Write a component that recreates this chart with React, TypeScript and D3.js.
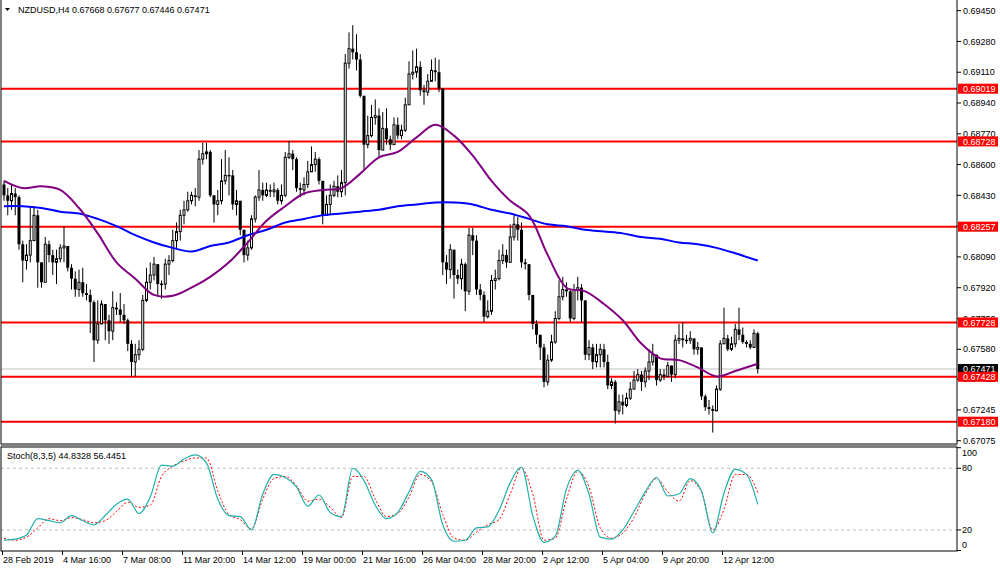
import React from 'react';
import * as d3 from 'd3';

const titleText = 'NZDUSD,H4  0.67668 0.67677 0.67446 0.67471';
const stochTitle = 'Stoch(8,3,5) 44.8328 56.4451';
const firstOpen = 0.6849;

const closes = [
  0.6843, 0.6840, 0.6844, 0.6842, 0.6816, 0.6807, 0.6810, 0.6818, 0.6832, 0.6806,
  0.6795, 0.6816, 0.6810, 0.6806, 0.6808, 0.6814, 0.6815, 0.6803, 0.6797, 0.6791,
  0.6795, 0.6789, 0.6788, 0.6784, 0.6763, 0.6772, 0.6783, 0.6774, 0.6768, 0.6781,
  0.6780, 0.6777, 0.6774, 0.6761, 0.6751, 0.6755, 0.6758, 0.6785, 0.6795, 0.6799,
  0.6805, 0.6794, 0.6794, 0.6805, 0.6807, 0.6818, 0.6823, 0.6832, 0.6835, 0.6840,
  0.6843, 0.6842, 0.6863, 0.6866, 0.6867, 0.6843, 0.6838, 0.6840, 0.6851, 0.6854,
  0.6854, 0.6838, 0.6840, 0.6824, 0.6810, 0.6814, 0.6830, 0.6842, 0.6846, 0.6843,
  0.6846, 0.6845, 0.6846, 0.6840, 0.6843, 0.6864, 0.6866, 0.6863, 0.6847, 0.6846,
  0.6849, 0.6856, 0.6860, 0.6863, 0.6851, 0.6832, 0.6838, 0.6843, 0.6848, 0.6845,
  0.6850, 0.6916, 0.6924, 0.6922, 0.6918, 0.6898, 0.6871, 0.6876, 0.6886, 0.6887,
  0.6868, 0.6880, 0.6874, 0.6871, 0.6882, 0.6876, 0.6879, 0.6893, 0.6910, 0.6911,
  0.6914, 0.6901, 0.6900, 0.6906, 0.6912, 0.6911, 0.6902, 0.6806, 0.6802, 0.6813,
  0.6799, 0.6797, 0.6805, 0.6790, 0.6821, 0.6818, 0.6791, 0.6788, 0.6776, 0.6779,
  0.6796, 0.6797, 0.6807, 0.6810, 0.6806, 0.6820, 0.6827, 0.6824, 0.6806, 0.6805,
  0.6788, 0.6772, 0.6766, 0.6759, 0.6740, 0.6752, 0.6762, 0.6775, 0.6787, 0.6791,
  0.6790, 0.6775, 0.6791, 0.6792, 0.6785, 0.6755, 0.6759, 0.6751, 0.6755, 0.6758,
  0.6751, 0.6738, 0.6740, 0.6724, 0.6729, 0.6727, 0.6731, 0.6736, 0.6741, 0.6744,
  0.6740, 0.6746, 0.6751, 0.6755, 0.6741, 0.6744, 0.6743, 0.6749, 0.6744, 0.6763,
  0.6764, 0.6763, 0.6763, 0.6764, 0.6758, 0.6759, 0.6732, 0.6726, 0.6725, 0.6724,
  0.6736, 0.6761, 0.6764, 0.6758, 0.6761, 0.6769, 0.6766, 0.6762, 0.6761, 0.6759,
  0.67668, 0.67471,
];

const highs = [
  0.6851, 0.6847, 0.6849, 0.6847, 0.6843, 0.6818, 0.6816, 0.6837, 0.6837, 0.6835,
  0.6806, 0.6820, 0.6818, 0.6813, 0.6813, 0.6816, 0.6826, 0.6813, 0.6805, 0.6801,
  0.6802, 0.6803, 0.6794, 0.6791, 0.6785, 0.6785, 0.6785, 0.6783, 0.6777, 0.6790,
  0.6784, 0.6789, 0.6783, 0.6775, 0.6763, 0.6761, 0.6763, 0.6788, 0.6803, 0.6806,
  0.6809, 0.6805, 0.6796, 0.6808, 0.6810, 0.6824, 0.6828, 0.6835, 0.6840, 0.6845,
  0.6845, 0.6847, 0.6868, 0.6872, 0.6872, 0.6868, 0.6843, 0.6846, 0.6863, 0.6868,
  0.6864, 0.6857, 0.6846, 0.6840, 0.6824, 0.6818, 0.6832, 0.6843, 0.6857, 0.6850,
  0.6850, 0.6849, 0.6850, 0.6847, 0.6849, 0.6867, 0.6873, 0.6868, 0.6864, 0.6850,
  0.6853, 0.6862, 0.6870, 0.6867, 0.6864, 0.6851, 0.6843, 0.6849, 0.6851, 0.6854,
  0.6857, 0.6921, 0.6933, 0.6937, 0.6932, 0.6921, 0.6898, 0.6887, 0.6893, 0.6896,
  0.6891, 0.6889, 0.6891, 0.6876, 0.6886, 0.6886, 0.6882, 0.6897, 0.6917, 0.6923,
  0.6924, 0.6917, 0.6904, 0.6910, 0.6918, 0.6919, 0.6918, 0.6902, 0.6810, 0.6816,
  0.6813, 0.6802, 0.6808, 0.6806, 0.6825, 0.6825, 0.6821, 0.6794, 0.6790, 0.6785,
  0.6799, 0.6802, 0.6813, 0.6816, 0.6813, 0.6827, 0.6832, 0.6831, 0.6828, 0.6808,
  0.6805, 0.6788, 0.6774, 0.6766, 0.6761, 0.6755, 0.6766, 0.6779, 0.6796, 0.6798,
  0.6795, 0.6791, 0.6794, 0.6798, 0.6794, 0.6785, 0.6763, 0.6761, 0.6761, 0.6761,
  0.6761, 0.6755, 0.6742, 0.6741, 0.6733, 0.6733, 0.6734, 0.6740, 0.6746, 0.6747,
  0.6746, 0.6748, 0.6758, 0.6761, 0.6755, 0.6747, 0.6747, 0.6751, 0.6749, 0.6766,
  0.6772, 0.6773, 0.6766, 0.6768, 0.6764, 0.6762, 0.6759, 0.6733, 0.6730, 0.6727,
  0.6738, 0.6763, 0.6781, 0.6766, 0.6765, 0.6772, 0.6781, 0.6770, 0.6763, 0.6763,
  0.6769, 0.67677,
];

const lows = [
  0.6840, 0.6832, 0.6835, 0.6832, 0.6813, 0.6795, 0.6802, 0.6806, 0.6818, 0.6792,
  0.6792, 0.6795, 0.6806, 0.6799, 0.6794, 0.6806, 0.6806, 0.6801, 0.6791, 0.6787,
  0.6787, 0.6787, 0.6785, 0.6767, 0.6751, 0.6761, 0.6772, 0.6763, 0.6761, 0.6763,
  0.6777, 0.6773, 0.6772, 0.6757, 0.6743, 0.6743, 0.6752, 0.6757, 0.6784, 0.6791,
  0.6796, 0.6787, 0.6786, 0.6791, 0.6799, 0.6806, 0.6814, 0.6818, 0.6827, 0.6834,
  0.6838, 0.6837, 0.6840, 0.6860, 0.6863, 0.6842, 0.6828, 0.6832, 0.6838, 0.6849,
  0.6843, 0.6835, 0.6832, 0.6821, 0.6806, 0.6807, 0.6813, 0.6828, 0.6840, 0.6840,
  0.6842, 0.6842, 0.6842, 0.6838, 0.6838, 0.6842, 0.6863, 0.6857, 0.6845, 0.6842,
  0.6843, 0.6847, 0.6856, 0.6856, 0.6849, 0.6827, 0.6832, 0.6832, 0.6842, 0.6842,
  0.6842, 0.6843, 0.6913, 0.6918, 0.6912, 0.6897, 0.6857, 0.6869, 0.6875, 0.6882,
  0.6864, 0.6868, 0.6871, 0.6868, 0.6871, 0.6874, 0.6874, 0.6878, 0.6893, 0.6907,
  0.6908, 0.6898, 0.6893, 0.6898, 0.6907, 0.6906, 0.6900, 0.6799, 0.6794, 0.6797,
  0.6786, 0.6794, 0.6791, 0.6779, 0.6788, 0.6810, 0.6788, 0.6785, 0.6773, 0.6775,
  0.6777, 0.6791, 0.6796, 0.6805, 0.6803, 0.6806, 0.6818, 0.6818, 0.6803, 0.6802,
  0.6785, 0.6769, 0.6761, 0.6752, 0.6737, 0.6738, 0.6751, 0.6761, 0.6774, 0.6785,
  0.6787, 0.6773, 0.6774, 0.6785, 0.6773, 0.6752, 0.6752, 0.6747, 0.6748, 0.6748,
  0.6748, 0.6736, 0.6736, 0.6717, 0.6722, 0.6722, 0.6726, 0.6730, 0.6736, 0.6740,
  0.6735, 0.6737, 0.6741, 0.6749, 0.6738, 0.6740, 0.6741, 0.6743, 0.6740, 0.6742,
  0.6761, 0.6759, 0.6761, 0.6761, 0.6755, 0.6755, 0.6730, 0.6724, 0.6722, 0.6712,
  0.6724, 0.6735, 0.6761, 0.6757, 0.6757, 0.6759, 0.6763, 0.6761, 0.6759, 0.6758,
  0.6759, 0.67446,
];

const maIndex = [0, 5, 10, 15, 20, 25, 30, 35, 40, 45, 50, 55, 60, 65, 70, 75, 80, 85, 90, 95,
  100, 105, 110, 115, 120, 125, 130, 135, 140, 145, 150, 155, 160, 165, 170, 175, 180, 185, 190, 195, 201];
const purpleMA = [0.6851, 0.6847, 0.6848, 0.6846, 0.6836, 0.6822, 0.6806, 0.6797, 0.6788, 0.67875,
  0.6792, 0.6798, 0.6806, 0.6817, 0.6829, 0.6837, 0.6844, 0.6846, 0.6847, 0.6855,
  0.6864, 0.6867, 0.6875, 0.6882, 0.6876, 0.6865, 0.6851, 0.6840, 0.6832, 0.6810,
  0.6792, 0.6790, 0.6783, 0.6774, 0.6761, 0.6753, 0.6752, 0.6748, 0.6743, 0.6746, 0.6750];
const blueMA = [0.6837, 0.6837, 0.6836, 0.6834, 0.6833, 0.6830, 0.6826, 0.6821, 0.6817, 0.6814,
  0.6812, 0.6815, 0.6817, 0.6821, 0.6824, 0.6828, 0.6830, 0.6832, 0.6833, 0.6834,
  0.6835, 0.6837, 0.6838, 0.6839, 0.6839, 0.6838, 0.6835, 0.6833, 0.6830, 0.6827,
  0.6826, 0.6824, 0.6823, 0.6822, 0.6820, 0.6819, 0.6817, 0.6816, 0.6814, 0.6811, 0.6807];

const stochIndex = [0, 3, 6, 9, 12, 15, 18, 21, 24, 27, 30, 33, 36, 39, 42, 45, 48, 51, 54, 57,
  60, 63, 66, 69, 72, 75, 78, 81, 84, 87, 90, 93, 96, 99, 102, 105, 108, 111, 114, 117,
  120, 123, 126, 129, 132, 135, 138, 141, 144, 147, 150, 153, 156, 159, 162, 165, 168, 171, 174, 177,
  180, 183, 186, 189, 192, 195, 198, 201];
const stochK = [10, 11, 15, 31, 29, 27, 34, 29, 25, 34, 45, 50, 36, 52, 83, 82, 89, 93, 85, 50,
  34, 33, 20, 55, 74, 71, 62, 43, 54, 37, 33, 80, 68, 44, 31, 37, 57, 77, 69, 25,
  9, 10, 22, 23, 39, 66, 81, 34, 8, 14, 60, 78, 55, 13, 11, 20, 38, 57, 71, 53,
  55, 70, 58, 17, 56, 79, 74, 44.8328];
const stochD = [12, 10, 13, 22, 31, 29, 32, 30, 27, 29, 38, 47, 42, 44, 72, 82, 87, 90, 90, 58,
  35, 30, 21, 50, 70, 72, 63, 48, 50, 42, 32, 72, 72, 50, 33, 36, 52, 74, 67, 35,
  12, 10, 18, 25, 30, 55, 80, 55, 10, 12, 50, 77, 62, 22, 12, 17, 32, 55, 70, 57,
  48, 68, 57, 20, 40, 74, 74, 56.4451];

const levels = [0.69019, 0.68728, 0.68257, 0.67728, 0.67428, 0.67180];
const levelLabels = ['0.69019', '0.68728', '0.68257', '0.67728', '0.67428', '0.67180'];
const bidPrice = 0.67471;
const bidLabel = '0.67471';
const priceTickLabels = ['0.69450', '0.69280', '0.69110', '0.68940', '0.68770', '0.68600', '0.68430',
  '0.68260', '0.68090', '0.67920', '0.67750', '0.67580', '0.67415', '0.67245', '0.67075'];
const stochTickLabels = ['100', '80', '20', '0'];
const stochLevels = [80, 20];
const timeLabels = ['28 Feb 2019', '4 Mar 16:00', '7 Mar 08:00', '11 Mar 20:00', '14 Mar 12:00',
  '19 Mar 00:00', '21 Mar 16:00', '26 Mar 04:00', '28 Mar 20:00', '2 Apr 12:00', '5 Apr 04:00',
  '9 Apr 20:00', '12 Apr 12:00'];
const timeLabelIndex = [0, 16, 32, 48, 64, 80, 96, 112, 128, 144, 160, 176, 192];

const FONT = "'Liberation Sans', Arial, sans-serif";

export default function App() {
  const W = 1000, H = 571;
  const plotL = 1, plotR = 957;
  const mainTop = 0, mainBottom = 444;
  const stTop = 447, stBottom = 551;

  const x = d3.scaleLinear().domain([0, closes.length - 1]).range([4, 757.75]);
  const y = d3.scaleLinear().domain([0.69019, 0.6718]).range([88.7, 421.7]);
  const ys = d3.scaleLinear().domain([0, 100]).range([550.5, 447.7]);

  const bars = closes.map((c, i) => {
    const o = i === 0 ? firstOpen : closes[i - 1];
    const h = Math.max(highs[i], o, c);
    const l = Math.min(lows[i], o, c);
    return { i, o, h, l, c };
  });

  const maLine = d3.line<number>()
    .x((_, k) => x(maIndex[k]))
    .y((v) => y(v))
    .curve(d3.curveCatmullRom.alpha(0.5));

  const stLine = d3.line<number>()
    .x((_, k) => x(stochIndex[k]))
    .y((v) => ys(v))
    .curve(d3.curveMonotoneX);

  const labelW = 40, labelH = 10;

  return (
    <svg width={W} height={H} style={{ position: 'absolute', left: 0, top: 0, background: '#fff' }}
      fontFamily={FONT} fontSize={9}>
      <defs>
        <clipPath id="mainClip"><rect x={plotL} y={mainTop} width={plotR - plotL} height={mainBottom - mainTop} /></clipPath>
        <clipPath id="stClip"><rect x={plotL} y={stTop} width={plotR - plotL} height={stBottom - stTop} /></clipPath>
        <clipPath id="axisClip"><rect x={plotR} y={0} width={W - plotR} height={mainBottom} /></clipPath>
      </defs>
      <rect x={0} y={0} width={W} height={H} fill="#fff" />

      {/* main panel */}
      <g clipPath="url(#mainClip)">
        <line x1={plotL} x2={plotR} y1={y(bidPrice)} y2={y(bidPrice)} stroke="#c0c0c0" strokeWidth={1} />
        {levels.map((v, k) => (
          <line key={k} x1={plotL} x2={plotR} y1={y(v)} y2={y(v)} stroke="#ff0000" strokeWidth={2} />
        ))}
        {bars.map((b) => {
          const cx = x(b.i);
          const top = y(Math.max(b.o, b.c));
          const bot = y(Math.min(b.o, b.c));
          const bull = b.c >= b.o;
          return (
            <g key={b.i}>
              <line x1={cx} x2={cx} y1={y(b.h)} y2={y(b.l)} stroke="#000" strokeWidth={1} />
              {bull ? (
                <rect x={cx - 1} y={top} width={2} height={Math.max(bot - top, 0.5)} fill="#fff" stroke="#000" strokeWidth={1} />
              ) : (
                <rect x={cx - 1.5} y={top} width={3} height={Math.max(bot - top, 1)} fill="#000" />
              )}
            </g>
          );
        })}
        <path d={maLine(blueMA) || ''} fill="none" stroke="#0000ff" strokeWidth={2} />
        <path d={maLine(purpleMA) || ''} fill="none" stroke="#800080" strokeWidth={2} />
        <path d="M5,8 L10,8 L7.5,11 Z" fill="#000" />
        <text x={18} y={13} fill="#000">{titleText}</text>
      </g>

      {/* price axis */}
      <g clipPath="url(#axisClip)">
        {priceTickLabels.map((t, k) => {
          const yy = y(parseFloat(t));
          return (
            <g key={k}>
              <line x1={plotR} x2={plotR + 4} y1={yy} y2={yy} stroke="#000" />
              <text x={963} y={yy + 3.2} fill="#000">{t}</text>
            </g>
          );
        })}
      </g>
      <g>
        <rect x={plotR + 1} y={y(bidPrice) - 5} width={labelW} height={labelH} fill="#000" />
        <text x={963} y={y(bidPrice) + 3.2} fill="#fff">{bidLabel}</text>
        {levels.map((v, k) => (
          <g key={k}>
            <rect x={plotR + 1} y={y(v) - 5} width={labelW} height={labelH} fill="#ff0000" />
            <text x={963} y={y(v) + 3.2} fill="#fff">{levelLabels[k]}</text>
          </g>
        ))}
      </g>

      {/* stochastic panel */}
      <g clipPath="url(#stClip)">
        {stochLevels.map((lv, k) => (
          <line key={k} x1={plotL} x2={plotR} y1={ys(lv)} y2={ys(lv)} stroke="#c0c0c0" strokeDasharray="3,3" />
        ))}
        <path d={stLine(stochD) || ''} fill="none" stroke="#ff0000" strokeWidth={1} strokeDasharray="2,2" />
        <path d={stLine(stochK) || ''} fill="none" stroke="#20b2aa" strokeWidth={1.2} />
        <text x={7} y={459} fill="#000">{stochTitle}</text>
      </g>
      {stochTickLabels.map((t, k) => {
        const v = parseFloat(t);
        const yy = Math.min(Math.max(ys(v), 453), 545);
        return (
          <g key={k}>
            <line x1={plotR} x2={plotR + 4} y1={ys(v)} y2={ys(v)} stroke="#000" />
            <text x={962} y={yy + 3.2} fill="#000">{t}</text>
          </g>
        );
      })}

      {/* frames */}
      <rect x={plotL} y={mainTop - 1} width={plotR - plotL} height={mainBottom - mainTop + 1} fill="none" stroke="#000" strokeWidth={1} />
      <line x1={plotL} x2={plotR} y1={mainBottom + 1.5} y2={mainBottom + 1.5} stroke="#808080" />
      <rect x={plotL} y={stTop} width={plotR - plotL} height={stBottom - stTop} fill="none" stroke="#000" strokeWidth={1} />

      {/* time axis */}
      {timeLabels.map((t, k) => {
        const xx = x(timeLabelIndex[k]) - 1.5;
        return (
          <g key={k}>
            <line x1={xx} x2={xx} y1={stBottom} y2={stBottom + 4} stroke="#000" />
            <text x={xx + 0.5} y={562.5} fill="#000">{t}</text>
          </g>
        );
      })}
    </svg>
  );
}
